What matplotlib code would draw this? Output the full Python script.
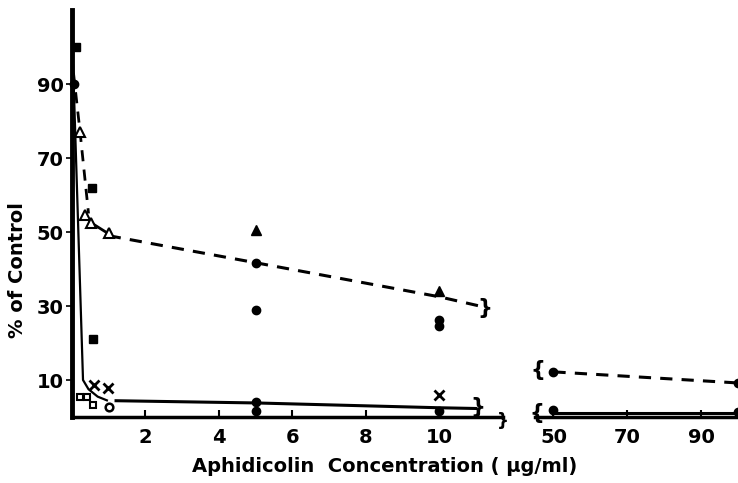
import numpy as np
import matplotlib
matplotlib.use("Agg")
import matplotlib.pyplot as plt

plt.rcParams['font.family'] = ['DejaVu Sans']
plt.rcParams['font.weight'] = 'bold'

# data (x: ug/ml, y: % of control)
sq_fill_x = [0.1, 0.55, 0.57]
sq_fill_y = [100, 62, 21]
circ_x = [0.05, 5, 5, 10, 10, 5, 5, 10]
circ_y = [90, 41.7, 29, 26.2, 24.6, 4.0, 1.5, 1.5]
circ_far_x = [50, 50, 100, 100]
circ_far_y = [12.2, 1.9, 9.2, 1.4]
tri_fill_x = [5, 10]
tri_fill_y = [50.5, 34]
tri_open_x = [0.22, 0.36, 0.52, 1.0]
tri_open_y = [77, 54.5, 52.5, 49.7]
sq_open_x = [0.22, 0.42, 0.57]
sq_open_y = [5.4, 5.4, 3.2]
circ_open_x = [1.0]
circ_open_y = [2.7]
cross_x = [0.6, 0.98, 10]
cross_y = [8.6, 7.8, 6.0]

# fitted curves
dash1_x = [0.04, 0.22, 0.45]
dash1_y = [93, 77, 55]
solid1_x = [0.36, 0.52, 1.0]
solid1_y = [54.5, 52.5, 49.5]
dash2_x = [1.0, 5, 10, 11.1]
dash2_y = [49, 41.7, 32.5, 30]
low1_x = [0.03, 0.3, 0.45, 0.7, 0.95]
low1_y = [95, 10, 7.5, 5.5, 4.5]
low2_x = [1.2, 5, 10, 11.0]
low2_y = [4.4, 3.8, 2.5, 2.3]
hi_far_x = [50, 100]
hi_far_y = [12.2, 9.2]
low_far_x = [50, 100]
low_far_y = [1.2, 1.2]

fig = plt.figure(figsize=(7.38, 4.83), dpi=100)
ax1 = fig.add_axes([72/738, 66/483, 431/738, 407/483])
ax2 = fig.add_axes([535/738, 66/483, 203/738, 407/483])

for ax in (ax1, ax2):
    ax.set_ylim(0, 110)
    ax.spines['top'].set_visible(False)
    ax.spines['right'].set_visible(False)
    ax.spines['bottom'].set_linewidth(2.5)
    ax.tick_params(axis='x', direction='in', length=5, width=1.5, labelsize=14, pad=8)
    ax.patch.set_alpha(0)

ax1.set_xlim(0, 11.74)
ax2.set_xlim(45, 100)
ax1.spines['left'].set_linewidth(3.5)
ax2.spines['left'].set_visible(False)
ax2.set_yticks([])

ax1.set_xticks([2, 4, 6, 8, 10])
ax1.set_xticklabels(['2', '4', '6', '8', '10'], fontweight='bold')
ax2.set_xticks([50, 70, 90])
ax2.set_xticklabels(['50', '70', '90'], fontweight='bold')
ax1.set_yticks([10, 30, 50, 70, 90])
ax1.set_yticklabels(['10', '30', '50', '70', '90'], fontweight='bold')
ax1.tick_params(axis='y', direction='out', length=4, width=1.2, labelsize=14, pad=2)

# curves
ax1.plot(dash1_x, dash1_y, '--', color='black', lw=2, dashes=(4, 3))
ax1.plot(solid1_x, solid1_y, '-', color='black', lw=2)
ax1.plot(dash2_x, dash2_y, '--', color='black', lw=2.2, dashes=(4, 3))
ax1.plot(low1_x, low1_y, '-', color='black', lw=1.6)
ax1.plot(low2_x, low2_y, '-', color='black', lw=2.2)
ax2.plot(hi_far_x, hi_far_y, '--', color='black', lw=2.2, dashes=(4, 3))
ax2.plot(low_far_x, low_far_y, '-', color='black', lw=2.2)

# markers
ax1.plot(circ_x, circ_y, 'o', color='black', ms=6, ls='none', clip_on=False)
ax2.plot(circ_far_x, circ_far_y, 'o', color='black', ms=6, ls='none', clip_on=False)
ax1.plot(sq_fill_x, sq_fill_y, 's', color='black', ms=5.5, ls='none', clip_on=False)
ax1.plot(tri_fill_x, tri_fill_y, '^', color='black', ms=7, ls='none')
ax1.plot(tri_open_x, tri_open_y, '^', mfc='white', mec='black', mew=1.5, ms=7, ls='none')
ax1.plot(sq_open_x, sq_open_y, 's', mfc='white', mec='black', mew=1.5, ms=5, ls='none')
ax1.plot(circ_open_x, circ_open_y, 'o', mfc='white', mec='black', mew=1.8, ms=5.5, ls='none')
ax1.plot(cross_x, cross_y, 'x', color='black', mew=2, ms=7, ls='none')

# break marks
brace = dict(fontsize=15, fontweight='bold', ha='center', va='center', clip_on=False)
ax1.text(11.25, 29.5, '}', **brace)
ax1.text(11.05, 2.8, '}', **brace)
ax1.text(11.74, -1.2, '}', fontsize=12, fontweight='bold', ha='center', va='center')
ax2.text(45.8, 12.8, '{', **brace)
ax2.text(45.6, 1.0, '{', **brace)

fig.text(18/738, 1 - 270/483, '% of Control', rotation=90, ha='center', va='center',
         fontsize=14, fontweight='bold')
fig.text(385/738, 1 - 467/483, 'Aphidicolin  Concentration ( μg/ml)', ha='center',
         va='center', fontsize=14, fontweight='bold')

fig.savefig('out.png', dpi=100)
